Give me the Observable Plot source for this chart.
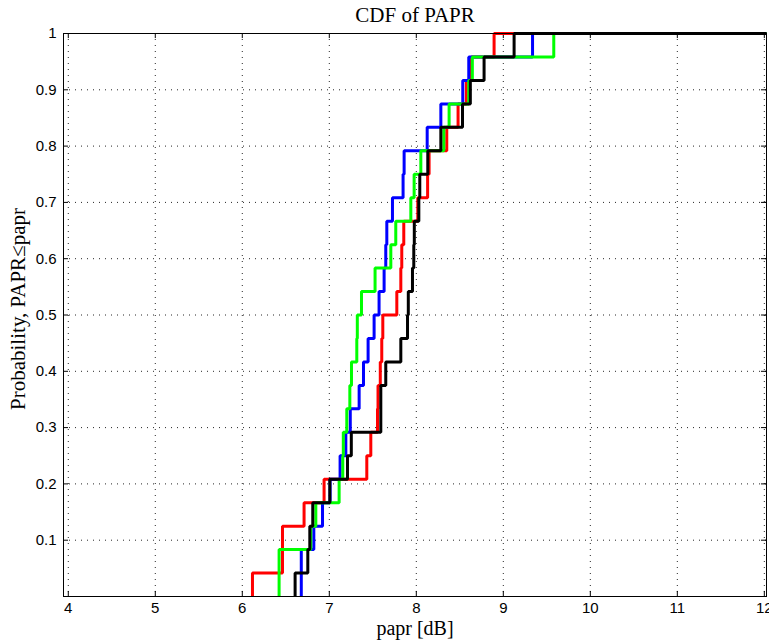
<!DOCTYPE html>
<html>
<head>
<meta charset="utf-8">
<script src="https://cdn.jsdelivr.net/npm/d3@7"></script>
<script src="https://cdn.jsdelivr.net/npm/@observablehq/plot@0.6"></script>
<style>
  html, body { margin: 0; padding: 0; background: #fff; }
  #chart svg { display: block; }
</style>
</head>
<body>
<div id="chart"></div>
<script>
// ---- data (PAPR samples in dB, 24 per series) ----
const seriesNames = ["red", "blue", "green", "black"];
const paprRed = [6.117, 6.462, 6.462, 6.710, 6.940, 7.431, 7.477, 7.554, 7.560, 7.586, 7.603, 7.615,
                 7.776, 7.822, 7.833, 7.856, 8.017, 8.130, 8.147, 8.350, 8.480, 8.575, 8.630, 8.894];
const paprBlue = [6.678, 6.678, 6.822, 6.922, 7.009, 7.124, 7.190, 7.241, 7.343, 7.393, 7.446, 7.515,
                  7.572, 7.630, 7.649, 7.661, 7.726, 7.848, 7.860, 8.125, 8.282, 8.534, 8.603, 9.336];
const paprGreen = [6.423, 6.423, 6.787, 6.845, 7.113, 7.155, 7.161, 7.201, 7.236, 7.255, 7.316, 7.322,
                   7.370, 7.526, 7.707, 7.764, 7.937, 7.975, 8.052, 8.316, 8.377, 8.603, 8.644, 9.580];
const paprBlack = [6.607, 6.753, 6.776, 6.810, 7.006, 7.209, 7.253, 7.592, 7.592, 7.649, 7.822, 7.899,
                   7.908, 7.956, 7.971, 7.977, 8.029, 8.040, 8.132, 8.282, 8.531, 8.621, 8.779, 9.124];

const xTicks = [4, 5, 6, 7, 8, 9, 10, 11, 12];
const yTicks = [0.1, 0.2, 0.3, 0.4, 0.5, 0.6, 0.7, 0.8, 0.9, 1];
const yTickLabels = ["0.1", "0.2", "0.3", "0.4", "0.5", "0.6", "0.7", "0.8", "0.9", "1"];
const titleText = "CDF of PAPR";
const xLabelText = "papr [dB]";
const yLabelText = "Probability, PAPR\u2264papr";

// ---- styles / layout ----
const xDomain = [3.945, 12.025];
const yDomain = [0, 1];
const seriesColors = {red: "#ff0000", blue: "#0000ff", green: "#00ff00", black: "#000000"};
const samplesBySeries = {red: paprRed, blue: paprBlue, green: paprGreen, black: paprBlack};
const serif = "'Liberation Serif', 'Times New Roman', serif";
const sans = "'Liberation Sans', Arial, Helvetica, sans-serif";

// empirical CDF rows from samples
function ecdf(samples) {
  const s = samples.slice().sort((a, b) => a - b);
  const n = s.length;
  const rows = [{x: s[0], y: 0}];
  s.forEach((v, i) => rows.push({x: v, y: (i + 1) / n}));
  rows.push({x: xDomain[1], y: 1});
  return rows;
}

const tickLenY = 0.009;  // inward tick length in y units
const tickLenX = 0.058;  // inward tick length in x units
const gridStyle = {stroke: "#000", strokeWidth: 1, strokeDasharray: "1,5", strokeOpacity: 0.85};

const marks = [
  // dotted grid
  Plot.ruleX(xTicks, {x: d => d, ...gridStyle}),
  Plot.ruleY(yTicks.filter(t => t < 1), {y: d => d, ...gridStyle}),
  // inward ticks on all four sides
  Plot.ruleX(xTicks, {x: d => d, y1: yDomain[0], y2: yDomain[0] + tickLenY, stroke: "#000"}),
  Plot.ruleX(xTicks, {x: d => d, y1: yDomain[1], y2: yDomain[1] - tickLenY, stroke: "#000"}),
  Plot.ruleY(yTicks, {y: d => d, x1: xDomain[0], x2: xDomain[0] + tickLenX, stroke: "#000"}),
  Plot.ruleY(yTicks, {y: d => d, x1: xDomain[1], x2: xDomain[1] - tickLenX, stroke: "#000"}),
  // CDF step curves
  ...seriesNames.map(name => Plot.line(ecdf(samplesBySeries[name]), {
    x: "x", y: "y", curve: "step-after",
    stroke: seriesColors[name], strokeWidth: 3,
    strokeLinejoin: "miter", strokeLinecap: "butt"
  })),
  Plot.frame({stroke: "#000", strokeWidth: 1}),
  // tick labels
  Plot.text(xTicks, {x: d => d, frameAnchor: "bottom", lineAnchor: "middle", dy: 12,
    text: d => String(d), fontSize: 15, fontFamily: sans, fill: "#000"}),
  Plot.text(yTicks, {y: d => d, frameAnchor: "left", textAnchor: "end", lineAnchor: "middle", dx: -7,
    text: (d, i) => yTickLabels[i], fontSize: 15, fontFamily: sans, fill: "#000"}),
  // title and axis labels
  Plot.text([titleText], {frameAnchor: "top", textAnchor: "middle", lineAnchor: "middle", dy: -18,
    text: d => d, fontSize: 21, fontFamily: serif, fill: "#000"}),
  Plot.text([xLabelText], {frameAnchor: "bottom", textAnchor: "middle", lineAnchor: "middle", dy: 32,
    text: d => d, fontSize: 20, fontFamily: serif, fill: "#000"}),
  Plot.text([yLabelText], {frameAnchor: "left", textAnchor: "middle", lineAnchor: "middle", rotate: -90,
    dx: -45, dy: -6, text: d => d, fontSize: 21, fontFamily: serif, fill: "#000"})
];

const chart = Plot.plot({
  width: 769,
  height: 641,
  marginLeft: 63,
  marginRight: 3,
  marginTop: 33,
  marginBottom: 45,
  x: {domain: xDomain, axis: null},
  y: {domain: yDomain, axis: null},
  style: {background: "#fff", fontFamily: sans, fontSize: "15px", color: "#000"},
  marks
});
document.getElementById("chart").appendChild(chart);
</script>
</body>
</html>
